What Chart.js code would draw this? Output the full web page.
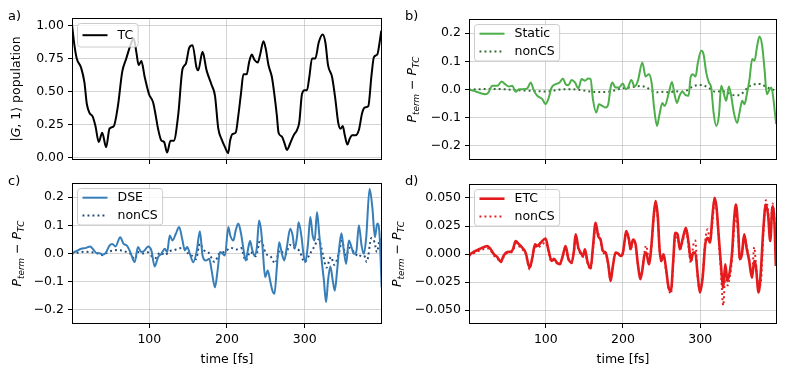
<!DOCTYPE html>
<html>
<head>
<meta charset="utf-8">
<title>Populations</title>
<script src="https://cdn.jsdelivr.net/npm/chart.js@4.4.1/dist/chart.umd.min.js"></script>
<style>
  html, body { margin: 0; padding: 0; background: #fff; }
  #fig { position: relative; width: 789px; height: 379px; overflow: hidden; }
  #fig canvas { position: absolute; }
</style>
</head>
<body>
<div id="fig">
  <canvas id="panelA" width="390" height="174" style="left:0;top:0"></canvas>
  <canvas id="panelB" width="399" height="174" style="left:390px;top:0"></canvas>
  <canvas id="panelC" width="390" height="211" style="left:0;top:168px"></canvas>
  <canvas id="panelD" width="399" height="211" style="left:390px;top:168px"></canvas>
</div>
<script>
// ---- data (time in fs) ----
const xTicks = [100, 200, 300];
const yTicksA = [0, 0.25, 0.5, 0.75, 1.0];
const yTicksBC = [-0.2, -0.1, 0, 0.1, 0.2];
const yTicksD = [-0.05, -0.025, 0, 0.025, 0.05];

// a) TC population
const tTC = [0.5, 3.5, 6.5, 12.1, 16.4, 19.4, 22.9, 27.2, 30.6, 34.9, 39.3, 44.4, 48.7, 54.3, 59.5, 65.1, 70.3, 76.8, 79.8, 83.2,
  86.2, 89.7, 94, 99.6, 104.8, 108.2, 111.2, 115.5, 119, 122.9, 127.2, 131.5, 137.1, 142.7, 147, 151.3, 155.6, 160.8, 162.9, 168.5,
  173.7, 180.2, 184.5, 188.8, 193.1, 197.5, 201.5, 204, 207, 211.2, 214.6, 218.1, 221.1, 225.4, 228.4, 231.9, 235.3, 239.6, 242.7, 247,
  250, 253.4, 257.8, 261.2, 264.2, 266.4, 270.7, 274.1, 277.1, 281.4, 285.8, 290.1, 293.1, 296.5, 300, 303, 306, 309.5, 313.8, 318.1,
  323.2, 326.7, 330.1, 335.3, 339.6, 343.1, 346.1, 349.1, 351.7, 355.1, 357.7, 361.2, 365.5, 369.8, 374.1, 377.5, 381.9, 386.2, 389.2, 393.5,
  396.5, 398.7];
const vTC = [1.0, 0.85, 0.75, 0.68, 0.57, 0.41, 0.34, 0.31, 0.24, 0.12, 0.19, 0.08, 0.22, 0.24, 0.39, 0.65, 0.75, 0.87, 0.9, 0.8,
  0.7, 0.73, 0.61, 0.48, 0.42, 0.32, 0.22, 0.13, 0.12, 0.04, 0.13, 0.13, 0.32, 0.67, 0.71, 0.83, 0.85, 0.68, 0.66, 0.8,
  0.66, 0.55, 0.47, 0.22, 0.14, 0.08, 0.035, 0.13, 0.18, 0.19, 0.32, 0.49, 0.63, 0.63, 0.72, 0.78, 0.74, 0.72, 0.78, 0.88,
  0.82, 0.7, 0.61, 0.47, 0.32, 0.19, 0.16, 0.11, 0.06, 0.11, 0.17, 0.21, 0.27, 0.48, 0.51, 0.51, 0.61, 0.75, 0.75, 0.87,
  0.93, 0.87, 0.7, 0.61, 0.44, 0.27, 0.22, 0.24, 0.17, 0.1, 0.14, 0.17, 0.17, 0.21, 0.34, 0.38, 0.39, 0.63, 0.76, 0.78,
  0.87, 0.96];

// b) Static and its nonCS variant
const tStatic = [0.4, 6.9, 13.4, 22, 25.5, 30.7, 37.1, 42.7, 47.1, 52.2, 56.6, 60.9, 65.2, 70.4, 76, 80.3, 84.6, 88.9, 95.4, 99.7,
  103.2, 107.5, 112.7, 117.9, 122.2, 125.6, 129.1, 133.4, 137.7, 142.1, 146.4, 150.7, 155, 158, 161, 165.4, 168.8, 173.1, 177.5, 180.9,
  183.9, 186.1, 190.4, 194.7, 199.9, 203.4, 206.4, 210.7, 215, 219.3, 225, 229.3, 233.6, 237, 240.5, 244, 247.4, 250.9, 253.9, 259.5,
  263.4, 266.8, 269.9, 273.3, 276.8, 281.1, 285, 287.6, 290.6, 294, 297.1, 301.4, 304.4, 307.9, 311.3, 314.3, 317.4, 320.8, 324.3, 327.3,
  330.3, 333.8, 337.2, 340.2, 343.7, 348, 351, 354.5, 357.5, 360.5, 364, 367.4, 370.5, 373.9, 376.9, 380.4, 383.4, 386.4, 389, 392.1,
  394.2, 396.4, 398.5];
const vStatic = [0, -0.005, -0.011, -0.017, -0.011, 0.013, 0.013, 0.028, 0.019, 0.011, 0.013, -0.008, 0.001, 0.001, 0.004, 0.025, -0.005, -0.022, -0.034, -0.052,
  -0.034, 0.007, 0.019, 0.025, 0.039, 0.019, 0.015, 0.034, 0.025, 0.004, 0.037, 0.031, 0.039, 0.037, -0.034, -0.082, -0.052, -0.058, -0.064, -0.052,
  0.007, 0.025, 0.007, 0.007, 0.021, 0.001, 0.007, 0.034, 0.011, 0.031, 0.096, 0.046, 0.054, 0.025, -0.07, -0.129, -0.087, -0.048, -0.058, -0.011,
  0.027, -0.017, -0.048, -0.022, -0.008, -0.02, -0.022, 0.043, 0.054, 0.046, 0.096, 0.137, 0.125, 0.06, 0.025, 0.007, -0.082, -0.129, -0.093, 0.013,
  -0.011, -0.04, 0.011, -0.022, -0.082, -0.119, -0.082, -0.04, -0.052, -0.017, 0.037, 0.108, 0.102, 0.155, 0.188, 0.155, 0.072, -0.017, -0.005, 0.007,
  -0.017, -0.07, -0.123];
const tNonCSB = [0, 15, 30, 45, 60, 75, 90, 100, 110, 120, 130, 140, 150, 160, 170, 180, 188, 195, 205, 215,
  222, 230, 238, 245, 252, 260, 268, 275, 282, 290, 298, 305, 312, 320, 328, 336, 344, 350, 356, 362,
  368, 374, 380, 386, 392, 398];
const vNonCSB = [0, 0.001, 0.002, 0.001, -0.002, -0.004, -0.006, -0.007, -0.004, 0, 0.001, 0, -0.004, -0.008, -0.009, -0.008, -0.004, 0.002, 0.006, 0.01,
  0.012, 0.008, -0.005, -0.01, -0.008, -0.01, -0.006, -0.008, -0.004, 0.01, 0.016, 0.014, 0.004, -0.008, -0.006, -0.012, -0.02, -0.02, -0.01, 0.008,
  0.016, 0.02, 0.018, 0.008, 0.002, -0.004];

// c) DSE and its nonCS variant
const tDSE = [0.5, 5.6, 12.1, 18.6, 23.7, 28.1, 32.4, 35.8, 40.1, 43.6, 48.7, 52.2, 56.5, 62.5, 66.8, 71.1, 75.5, 81.1, 85.4, 89.7,
  94, 98.3, 102.6, 106.9, 111.2, 115.5, 119.9, 122.9, 126.3, 129.8, 134.1, 138.4, 142.7, 145.7, 148.7, 152.2, 156.5, 160.8, 165.1, 168.5,
  172.8, 177.2, 180.2, 184.5, 187.9, 190.9, 194.4, 197.4, 201.7, 204.2, 208.2, 211.2, 214.6, 218.1, 221.1, 224.1, 227.6, 229.7, 232.7, 235.3,
  238.3, 241.3, 243.9, 246.1, 249.1, 252.5, 255.5, 258.5, 261.1, 264.2, 267.2, 270.7, 273.7, 277.1, 281.4, 284.5, 287.1, 290.1, 292.2, 295.7,
  298.7, 300.9, 304.3, 307.3, 310.3, 312.9, 315.9, 318.9, 322.4, 324.6, 327.6, 330.1, 333.1, 336.2, 338.8, 341.8, 344.8, 347.4, 350.4, 353.4,
  356.9, 360.3, 363.3, 366.4, 369.8, 373.3, 376.3, 379.3, 383.6, 387.1, 390.5, 393.5, 396.5, 399.1];
const vDSE = [0, 0.008, 0.017, 0.02, 0.025, 0.013, 0.001, 0.001, -0.004, 0.001, 0.028, 0.034, 0.025, 0.058, 0.034, 0.028, 0.005, -0.03, 0.023, 0.005,
  0.011, 0.025, 0.011, -0.046, -0.013, -0.001, 0.017, 0.005, 0.064, 0.046, 0.07, 0.094, 0.046, 0.011, 0.023, -0.001, -0.031, 0.005, 0.079, -0.007,
  -0.025, -0.019, -0.06, -0.12, -0.06, 0.005, -0.001, -0.007, 0.094, 0.064, 0.046, 0.082, 0.106, 0.07, 0.017, -0.025, 0.023, 0.044, 0.011, -0.007,
  0.017, 0.117, 0.082, 0.011, -0.084, -0.06, -0.096, -0.132, -0.143, -0.049, 0.04, -0.001, -0.025, 0.023, 0.088, 0.064, 0.017, 0.058, 0.111, 0.064,
  -0.007, -0.031, 0.034, 0.129, 0.064, 0.046, 0.147, 0.064, -0.037, -0.09, -0.173, -0.096, -0.046, -0.096, -0.132, -0.06, 0.028, 0.072, 0.011, -0.037,
  0.046, 0.023, -0.001, 0.005, 0.1, 0.028, -0.001, 0.058, 0.23, 0.165, 0.058, 0.106, 0.064, -0.12];
const tNonCSC = [0, 8, 16, 24, 32, 40, 46, 52, 58, 64, 70, 76, 81, 86, 92, 98, 104, 108, 114, 120,
  126, 132, 138, 144, 150, 156, 160, 165, 170, 176, 184, 190, 197, 205, 212, 218, 224, 230, 237, 243,
  250, 256, 262, 268, 275, 281, 287, 293, 300, 307, 312, 318, 324, 328, 334, 338, 344, 348, 353, 358,
  365, 370, 375, 380, 386, 390, 393, 397, 400];
const vNonCSC = [0, 0.003, 0.006, 0.005, 0.002, -0.006, 0.004, 0.01, 0.012, 0.011, 0.006, -0.002, -0.02, 0.005, 0, 0.004, -0.012, -0.016, 0.004, -0.006,
  0.008, 0.012, 0.018, 0.02, 0, -0.01, -0.02, 0.035, 0.012, 0.004, -0.03, 0, 0.006, 0.02, 0.014, 0.02, -0.025, 0.006, -0.01, 0.05,
  0, -0.01, -0.035, 0.012, -0.004, 0.03, 0.02, 0.01, -0.03, 0, 0.022, 0.05, -0.01, -0.05, -0.012, -0.04, 0, 0.045, -0.008, 0.02,
  0, -0.012, 0.006, -0.03, 0.055, 0.04, 0.005, 0.05, 0];

// d) ETC and its nonCS variant (same sampling times)
const tETC = [0.4, 6.9, 13.4, 19.9, 24.2, 28.5, 32.8, 37.1, 41.5, 45.8, 50.1, 54.4, 57.4, 60.9, 64.3, 69.5, 73.8, 79, 82.5, 85.9,
  88.9, 93.3, 99.7, 103.2, 107.5, 110.5, 113.6, 117.9, 121.3, 123.5, 125.6, 129.1, 133.4, 136.4, 138.6, 142.1, 145.1, 148.1, 150.7, 153.7,
  158, 161, 164.5, 167.9, 170.9, 174, 177.5, 180.9, 183.9, 186.9, 190.4, 193.8, 196.9, 199.9,
  202.1, 204.2, 207.7, 209.8, 212.9, 216.3, 219.3, 222.4, 224.9, 228, 230.1, 233.6, 236.6, 239.6, 242.2, 245.2, 247.4, 249.6, 252.6, 255.6,
  259.1, 262.1, 265.1, 267.7, 270.7, 273.8, 277.2, 281.6, 285, 288, 291.1, 293.7, 296.7, 299.7, 303.2, 306.6, 309.7, 312.7, 316.1, 318.7,
  321.3, 323.9, 326.9, 329.9, 332.5, 335.5, 338.6, 341.2, 344.2, 346.4, 348.9, 351.5, 354.1, 357.1, 360.1, 363.6, 367.1, 370.1, 372.2, 375.7,
  378.7, 381.7, 385.2, 388.2, 390.8, 393.8, 396.4, 398.1];
const vETC = [-0.0009, 0.0021, 0.0042, 0.0062, 0.0071, 0.0042, -0.0003, -0.0027, -0.0068, -0.0009, 0.0018, 0.0021, 0.0042, 0.0116, 0.0092, 0.0056, 0.0012, -0.0122, -0.0033, 0.0086,
  0.0071, 0.0101, 0.0139, 0.0042, -0.0062, -0.0042, -0.0071, -0.0092, -0.0033, 0.0027, 0.0071, -0.0039, -0.0077, 0.0027, 0.0175, 0.0056, 0.0012, -0.0018, 0.0042, -0.0062,
  -0.0128, 0.0056, 0.0279, 0.016, 0.013, 0.0027, 0.0012, -0.0092, -0.024, -0.0107, 0.0012, 0.0003, -0.0018, 0.0012,
  0.0116, 0.0205, 0.013, 0.0042, 0.013, 0.0086, -0.0092, -0.0225, -0.0151, -0.0003, 0.0012, -0.0092, 0.0056, 0.0323, 0.0472, 0.0323, 0.0042, -0.0062, -0.0003, -0.0122,
  -0.03, -0.0329, -0.0062, 0.019, 0.0175, 0.0042, 0.013, 0.0234, 0.0101, -0.0062, 0.0012, 0.0012, -0.0181, -0.0344, -0.0211, 0.0086, 0.0145, 0.0101, 0.0353, 0.0501,
  0.0412, 0.0175, -0.0092, -0.03, -0.0092, -0.024, -0.0151, -0.0003, 0.0323, 0.0442, 0.0264, -0.0047, -0.0003, 0.0175, 0.0056, -0.0062, -0.0211, -0.0062, -0.0107, -0.0344,
  -0.0151, 0.0205, 0.0442, 0.0338, 0.0116, 0.0427, 0.0264, -0.0107];
const vNonCSD = [-0.002, 0.0008, 0.0028, 0.0045, 0.0052, 0.0028, -0.0015, -0.0038, -0.0075, -0.002, 0.0008, 0.0012, 0.003, 0.0095, 0.0075, 0.0042, 0, -0.0138, -0.0045, 0.0065,
  0.0052, 0.0075, 0.0102, 0.0025, -0.007, -0.0052, -0.0078, -0.0098, -0.004, 0.0018, 0.006, -0.0045, -0.0082, 0.002, 0.0162, 0.0045, 0, -0.0025, 0.0035, -0.0072,
  -0.0138, 0.004, 0.0222, 0.0185, 0.011, 0.001, 0, -0.0098, -0.0235, -0.01, 0.001, 0, -0.002, 0.001,
  0.0105, 0.0195, 0.0125, 0.0035, 0.012, 0.0075, -0.0095, -0.0205, -0.015, 0.0025, 0.0075, -0.005, 0.0045, 0.03, 0.045, 0.03, 0.003, -0.0065, -0.001, -0.014,
  -0.031, -0.0355, -0.008, 0.015, 0.0145, 0.004, 0.011, 0.021, 0.006, -0.008, 0.008, 0.012, -0.02, -0.032, -0.02, 0.012, 0.022, 0.012, 0.03, 0.047,
  0.04, 0.015, -0.015, -0.046, -0.02, -0.028, -0.02, -0.005, 0.025, 0.038, 0.02, -0.005, 0, 0.015, 0.008, -0.005, -0.018, 0.006, -0.008, -0.03,
  -0.025, 0.015, 0.048, 0.038, 0.018, 0.045, 0.03, 0];

// ---- look ----
const FONT = '"DejaVu Sans"';
const FS = 12.5;
Chart.defaults.font.family = FONT;
Chart.defaults.font.size = FS;
Chart.defaults.color = '#000';

function pts(ts, vs) {
  return ts.map((t, i) => ({ x: t, y: vs[i] }));
}

function minusFmt(digits) {
  return v => (v < 0 ? '\u2212' : '') + Math.abs(v).toFixed(digits);
}

// frame, legend box, rotated y label with sub/italics, panel letter
const mplDecor = {
  id: 'mplDecor',
  afterDraw(chart, args, o) {
    const ctx = chart.ctx, a = chart.chartArea;
    ctx.save();
    ctx.strokeStyle = '#000';
    ctx.lineWidth = 1;
    ctx.strokeRect(a.left + 0.5, a.top + 0.5, a.right - a.left - 1, a.bottom - a.top - 1);

    // legend
    const sets = chart.data.datasets;
    ctx.font = FS + 'px ' + FONT;
    const tw = Math.max(...sets.map(d => ctx.measureText(d.label).width));
    const bx = a.left + 5.5, by = a.top + 5.5;
    const bw = 5 + 25 + 10 + tw + 5;
    const bh = o.legendH;
    ctx.beginPath();
    ctx.roundRect(bx, by, bw, bh, 3);
    ctx.fillStyle = 'rgba(255,255,255,0.8)';
    ctx.fill();
    ctx.strokeStyle = '#cccccc';
    ctx.stroke();
    sets.forEach((d, i) => {
      const cy = by + o.legendRows[i];
      ctx.beginPath();
      ctx.setLineDash(d.borderDash || []);
      ctx.lineCap = 'butt';
      ctx.strokeStyle = d.borderColor;
      ctx.lineWidth = d.borderWidth;
      ctx.moveTo(bx + 5, cy);
      ctx.lineTo(bx + 30, cy);
      ctx.stroke();
      ctx.setLineDash([]);
      ctx.fillStyle = '#000';
      ctx.textBaseline = 'middle';
      ctx.fillText(d.label, bx + 40, cy + 0.5);
    });

    // y label
    const parts = o.yTitle.map(r => {
      const s = r.sub ? FS * 0.7 : FS;
      const f = (r.it ? 'italic ' : '') + s + 'px ' + FONT;
      ctx.font = f;
      return { r, f, w: ctx.measureText(r.t).width };
    });
    const total = parts.reduce((s, p) => s + p.w, 0);
    ctx.translate(o.yTitleX, (a.top + a.bottom) / 2);
    ctx.rotate(-Math.PI / 2);
    ctx.textBaseline = 'alphabetic';
    ctx.fillStyle = '#000';
    let cx = -total / 2;
    parts.forEach(p => {
      ctx.font = p.f;
      ctx.fillText(p.r.t, cx, p.r.sub ? FS * 0.22 : 0);
      cx += p.w;
    });
    ctx.setTransform(1, 0, 0, 1, 0, 0);

    // panel letter
    ctx.font = '13px ' + FONT;
    ctx.textBaseline = 'alphabetic';
    ctx.fillText(o.letter, o.letterX, o.letterY);
    ctx.restore();
  }
};

const P_TITLE = [
  { t: 'P', it: true }, { t: 'term', it: true, sub: true }, { t: ' \u2212 ' },
  { t: 'P', it: true }, { t: 'TC', it: true, sub: true }
];

function makePanel(id, p) {
  const ctx = document.getElementById(id).getContext('2d');
  return new Chart(ctx, {
    type: 'line',
    data: { datasets: p.datasets },
    plugins: [mplDecor],
    options: {
      responsive: false,
      animation: false,
      events: [],
      layout: { padding: { left: 0, top: p.top, right: p.right, bottom: 0 } },
      elements: {
        point: { radius: 0 },
        line: { cubicInterpolationMode: 'monotone', borderCapStyle: 'butt', borderJoinStyle: 'round' }
      },
      scales: {
        x: {
          type: 'linear',
          min: 0.4,
          max: 399.6,
          afterBuildTicks: s => { s.ticks = xTicks.map(v => ({ value: v })); },
          afterFit: s => { s.height = p.xH; },
          grid: { color: 'rgba(176,176,176,0.55)', lineWidth: 1, tickColor: '#000', tickLength: 4, tickWidth: 1 },
          border: { display: false },
          ticks: { display: p.showX, padding: 4, maxRotation: 0, callback: v => String(v) },
          title: {
            display: p.showX, text: 'time [fs]',
            font: { size: FS }, padding: { top: 0, bottom: 11.5 }
          }
        },
        y: {
          min: p.yMin,
          max: p.yMax,
          afterBuildTicks: s => { s.ticks = p.yTicks.map(v => ({ value: v })); },
          afterFit: s => { s.width = p.yW; },
          grid: { color: 'rgba(176,176,176,0.55)', lineWidth: 1, tickColor: '#000', tickLength: 4, tickWidth: 1 },
          border: { display: false },
          ticks: { padding: 4, callback: p.fmt }
        }
      },
      plugins: {
        legend: { display: false },
        tooltip: { enabled: false },
        mplDecor: p.decor
      }
    }
  });
}

const dotted = [1.9, 3.1];

makePanel('panelA', {
  top: 18, right: 8, xH: 14, yW: 72, showX: false,
  yMin: -0.016, yMax: 1.055, yTicks: yTicksA, fmt: minusFmt(2),
  datasets: [
    { label: 'TC', data: pts(tTC, vTC), borderColor: '#000000', borderWidth: 2 }
  ],
  decor: { letter: 'a)', letterX: 8, letterY: 20, yTitleX: 20,
    legendH: 23.5, legendRows: [11.7],
    yTitle: [{ t: '|' }, { t: 'G', it: true }, { t: ', 1\u27E9 population' }] }
});

makePanel('panelB', {
  top: 19, right: 12, xH: 14, yW: 79, showX: false,
  yMin: -0.25, yMax: 0.25, yTicks: yTicksBC, fmt: minusFmt(1),
  datasets: [
    { label: 'Static', data: pts(tStatic, vStatic), borderColor: '#4daf4a', borderWidth: 2 },
    { label: 'nonCS', data: pts(tNonCSB, vNonCSB), borderColor: '#2f6b2d', borderWidth: 2, borderDash: dotted }
  ],
  decor: { letter: 'b)', letterX: 15, letterY: 20, yTitleX: 26,
    legendH: 36.5, legendRows: [9.2, 27], yTitle: P_TITLE }
});

makePanel('panelC', {
  top: 15, right: 8, xH: 55, yW: 72, showX: true,
  yMin: -0.25, yMax: 0.25, yTicks: yTicksBC, fmt: minusFmt(1),
  datasets: [
    { label: 'DSE', data: pts(tDSE, vDSE), borderColor: '#377eb8', borderWidth: 2 },
    { label: 'nonCS', data: pts(tNonCSC, vNonCSC), borderColor: '#204a7a', borderWidth: 2, borderDash: dotted }
  ],
  decor: { letter: 'c)', letterX: 8, letterY: 17, yTitleX: 21,
    legendH: 36.5, legendRows: [9.2, 27], yTitle: P_TITLE }
});

makePanel('panelD', {
  top: 16, right: 12, xH: 55, yW: 79, showX: true,
  yMin: -0.0625, yMax: 0.0625, yTicks: yTicksD, fmt: minusFmt(3),
  datasets: [
    { label: 'ETC', data: pts(tETC, vETC), borderColor: '#e41a1c', borderWidth: 2.6 },
    { label: 'nonCS', data: pts(tETC, vNonCSD), borderColor: '#e41a1c', borderWidth: 2, borderDash: dotted }
  ],
  decor: { letter: 'd)', letterX: 15, letterY: 17, yTitleX: 11,
    legendH: 36.5, legendRows: [9.2, 27], yTitle: P_TITLE }
});
</script>
</body>
</html>
